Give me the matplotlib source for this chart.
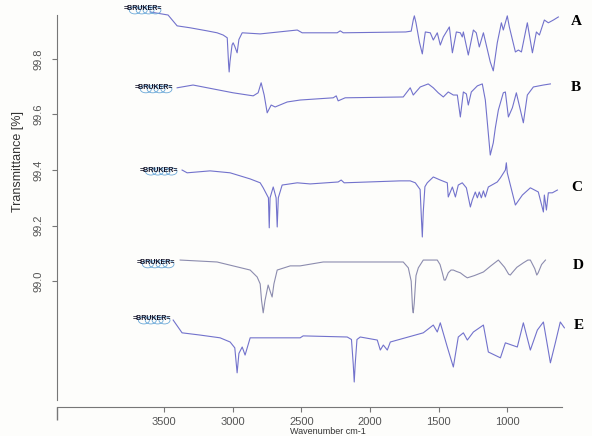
import matplotlib
matplotlib.use('Agg')
import matplotlib.pyplot as plt
from matplotlib.patches import Ellipse

# FTIR spectra (wavenumber cm-1, transmittance %)
wn_a = [3602, 3471, 3405, 3310, 3187, 3114, 3070, 3040, 3030, 3026, 3020, 3005, 2997, 2985,
        2968, 2955, 2931, 2800, 2530, 2494, 2239, 2217, 2195, 1740, 1700, 1685, 1677, 1665,
        1640, 1619, 1605, 1597, 1561, 1539, 1510, 1488, 1466, 1422, 1400,
        1371, 1342, 1328, 1320, 1284, 1247, 1226, 1204, 1174, 1124, 1102, 1073, 1043, 1029,
        1000, 985, 941, 919, 897, 854, 817, 788, 766, 730, 701, 664, 628]
t_a = [99.969, 99.958, 99.919, 99.912, 99.901, 99.894, 99.886, 99.876, 99.780, 99.753, 99.790,
       99.850, 99.858, 99.845, 99.822, 99.870, 99.894, 99.890, 99.904, 99.894, 99.894, 99.901,
       99.894, 99.897, 99.900, 99.940, 99.955, 99.930, 99.860, 99.818, 99.870, 99.897, 99.894,
       99.868, 99.894, 99.850, 99.879, 99.915, 99.822, 99.897, 99.894, 99.879, 99.897, 99.814,
       99.904, 99.894, 99.843, 99.894, 99.789, 99.757, 99.858, 99.930, 99.904, 99.955, 99.915,
       99.825, 99.832, 99.825, 99.930, 99.822, 99.897, 99.886, 99.940, 99.930, 99.940, 99.951]

wn_b = [3405, 3289, 2997, 2851, 2815, 2793, 2771, 2749, 2720, 2691, 2603, 2509, 2268, 2246,
        2232, 2181, 1758, 1707, 1685, 1634, 1576, 1539, 1503, 1466, 1430, 1393, 1364, 1342,
        1320, 1298, 1284, 1262, 1218, 1182, 1160, 1124, 1102, 1087, 1065, 1029, 1014, 992,
        963, 934, 883, 854, 810, 737, 686]
t_b = [99.696, 99.706, 99.678, 99.667, 99.678, 99.714, 99.670, 99.606, 99.634, 99.627, 99.645,
       99.652, 99.660, 99.667, 99.649, 99.660, 99.663, 99.696, 99.670, 99.699, 99.710, 99.696,
       99.678, 99.663, 99.681, 99.670, 99.670, 99.591, 99.681, 99.674, 99.634, 99.681, 99.703,
       99.710, 99.652, 99.454, 99.498, 99.552, 99.616, 99.678, 99.681, 99.591, 99.624, 99.678,
       99.570, 99.670, 99.699, 99.706, 99.710]

wn_c = [3369, 3332, 3165, 3019, 2873, 2800, 2778, 2740, 2734, 2728, 2705, 2684, 2676, 2668,
        2640, 2530, 2436, 2232, 2210, 2188, 1780, 1707, 1670, 1635, 1625, 1619, 1612, 1600,
        1583, 1539, 1488, 1437, 1430, 1400, 1378, 1357,
        1328, 1298, 1269, 1255, 1233, 1218, 1204, 1189, 1174, 1160, 1145, 1138, 1073, 1050,
        1014, 1007, 1000, 941, 890, 832, 774, 737, 730, 715, 701, 672, 635]
t_c = [99.400, 99.390, 99.397, 99.390, 99.368, 99.354, 99.336, 99.300, 99.192, 99.300, 99.339,
       99.300, 99.195, 99.300, 99.346, 99.354, 99.350, 99.357, 99.364, 99.354, 99.361, 99.361,
       99.354, 99.330, 99.220, 99.159, 99.250, 99.340, 99.354, 99.375,
       99.364, 99.354, 99.303, 99.339, 99.303, 99.346, 99.354, 99.336, 99.267, 99.292, 99.321,
       99.300, 99.321, 99.300, 99.325, 99.303, 99.328, 99.339, 99.357, 99.372, 99.400, 99.426,
       99.390, 99.274, 99.310, 99.336, 99.321, 99.249, 99.310, 99.256, 99.318, 99.318, 99.328]

wn_d = [3383, 3114, 2873, 2822, 2800, 2790, 2778, 2765, 2742, 2725, 2713, 2700, 2676, 2581,
        2509, 2341, 1758, 1721, 1700, 1690, 1685, 1678, 1665, 1648, 1612, 1510, 1490, 1473,
        1460, 1451, 1430, 1410, 1393, 1370, 1342, 1310, 1291, 1240, 1174, 1120, 1065, 1020,
        990, 978, 965, 930, 883, 850, 832, 800, 785, 775, 750, 722]
t_d = [99.076, 99.069, 99.040, 99.015, 98.990, 98.930, 98.886, 98.930, 98.986, 98.960, 98.943,
       98.990, 99.040, 99.055, 99.055, 99.069, 99.069, 99.048, 99.000, 98.900, 98.886, 98.920,
       99.020, 99.048, 99.076, 99.076, 99.060, 99.030, 99.004, 99.004, 99.030, 99.040, 99.040,
       99.035, 99.030, 99.018, 99.012, 99.020, 99.033, 99.055, 99.076, 99.050, 99.025, 99.022,
       99.030, 99.050, 99.066, 99.076, 99.076, 99.045, 99.022, 99.030, 99.060, 99.076]

wn_e = [3434, 3369, 3238, 3092, 3019, 2985, 2968, 2955, 2931, 2910, 2873, 2509, 2487, 2166,
        2135, 2122, 2115, 2108, 2095, 2071, 1947, 1925, 1903, 1874, 1852, 1612, 1539, 1510,
        1488, 1437, 1393, 1357, 1320, 1291,
        1247, 1174, 1138, 1050, 1014, 927, 883, 832, 781, 737, 686, 650, 614, 584]
t_e = [98.860, 98.814, 98.806, 98.796, 98.781, 98.760, 98.670, 98.740, 98.763, 98.734, 98.796,
       98.796, 98.803, 98.799, 98.790, 98.700, 98.637, 98.700, 98.790, 98.799, 98.788, 98.752,
       98.770, 98.752, 98.781, 98.814, 98.842, 98.817, 98.850, 98.763, 98.691, 98.799, 98.814,
       98.788, 98.817, 98.842, 98.745, 98.724, 98.778, 98.763, 98.850, 98.752, 98.824, 98.853,
       98.706, 98.778, 98.853, 98.832]

names = ['A', 'B', 'C', 'D', 'E']
label_wn = [497, 504, 497, 482, 482]
label_t = [99.933, 99.696, 99.336, 99.058, 98.842]
logo_wn = [3653, 3573, 3536, 3558, 3587]
logo_t = [99.980, 99.696, 99.400, 99.066, 98.864]

yticks = [99.0, 99.2, 99.4, 99.6, 99.8]
xticks = [3500, 3000, 2500, 2000, 1500, 1000]

plt.rcParams['font.family'] = ['Liberation Sans', 'DejaVu Sans']

fig = plt.figure(figsize=(5.92, 4.36), dpi=100)
fig.patch.set_facecolor('#fdfdfb')
ax = fig.add_axes([0.0963, 0.0665, 0.858, 0.922])
ax.set_facecolor('#fdfdfb')

series = [(wn_a, t_a), (wn_b, t_b), (wn_c, t_c), (wn_d, t_d), (wn_e, t_e)]
colors = ['#7272cc', '#7272cc', '#7272cc', '#8c8cae', '#7272cc']
for (w, t), c in zip(series, colors):
    ax.plot(w, t, color=c, lw=0.8, solid_joinstyle='round')

# little bruker logos at the start of each trace
for w, t in zip(logo_wn, logo_t):
    for dx in (-90, -40, 10, 60):
        ax.add_patch(Ellipse((w + dx, t - 0.005), 80, 0.026, fill=False,
                             ec='#6aa8d8', lw=0.6, zorder=3))
    ax.text(w, t, '=BRUKER=', fontsize=5, fontweight='bold', color='#15152a',
            ha='center', va='center', zorder=4)

for n, w, t in zip(names, label_wn, label_t):
    ax.text(w, t, n, fontsize=11, fontweight='bold', family=['Liberation Serif', 'DejaVu Serif'],
            ha='center', va='center', clip_on=False)

ax.set_xlim(4280, 580)
ax.set_ylim(98.547, 99.994)
ax.set_xticks(xticks)
ax.set_yticks(yticks)
ax.set_yticklabels(['%.1f' % v for v in yticks], rotation=90, va='center')
ax.set_xticks([4280], minor=True)
ax.tick_params(axis='x', which='minor', length=9, color='#777777', width=1)
ax.tick_params(axis='both', which='major', labelsize=8, labelcolor='#555555',
               color='#777777', length=3.5, width=0.8)
ax.tick_params(axis='y', pad=6)
ax.tick_params(axis='x', pad=4)

for s in ('top', 'right'):
    ax.spines[s].set_visible(False)
ax.spines['left'].set_bounds(98.572, 99.958)
ax.spines['left'].set_color('#777777')
ax.spines['bottom'].set_color('#777777')
ax.spines['bottom'].set_bounds(4280, 598)

fig.text(18 / 592, 1 - 162 / 436, 'Transmittance [%]', rotation=90, fontsize=9,
         color='#333333', ha='center', va='center')
fig.text(328 / 592, 1 - 431 / 436, 'Wavenumber cm-1', fontsize=6.5, color='#333333',
         ha='center', va='center')

fig.savefig('out.png', dpi=100, facecolor=fig.get_facecolor())
